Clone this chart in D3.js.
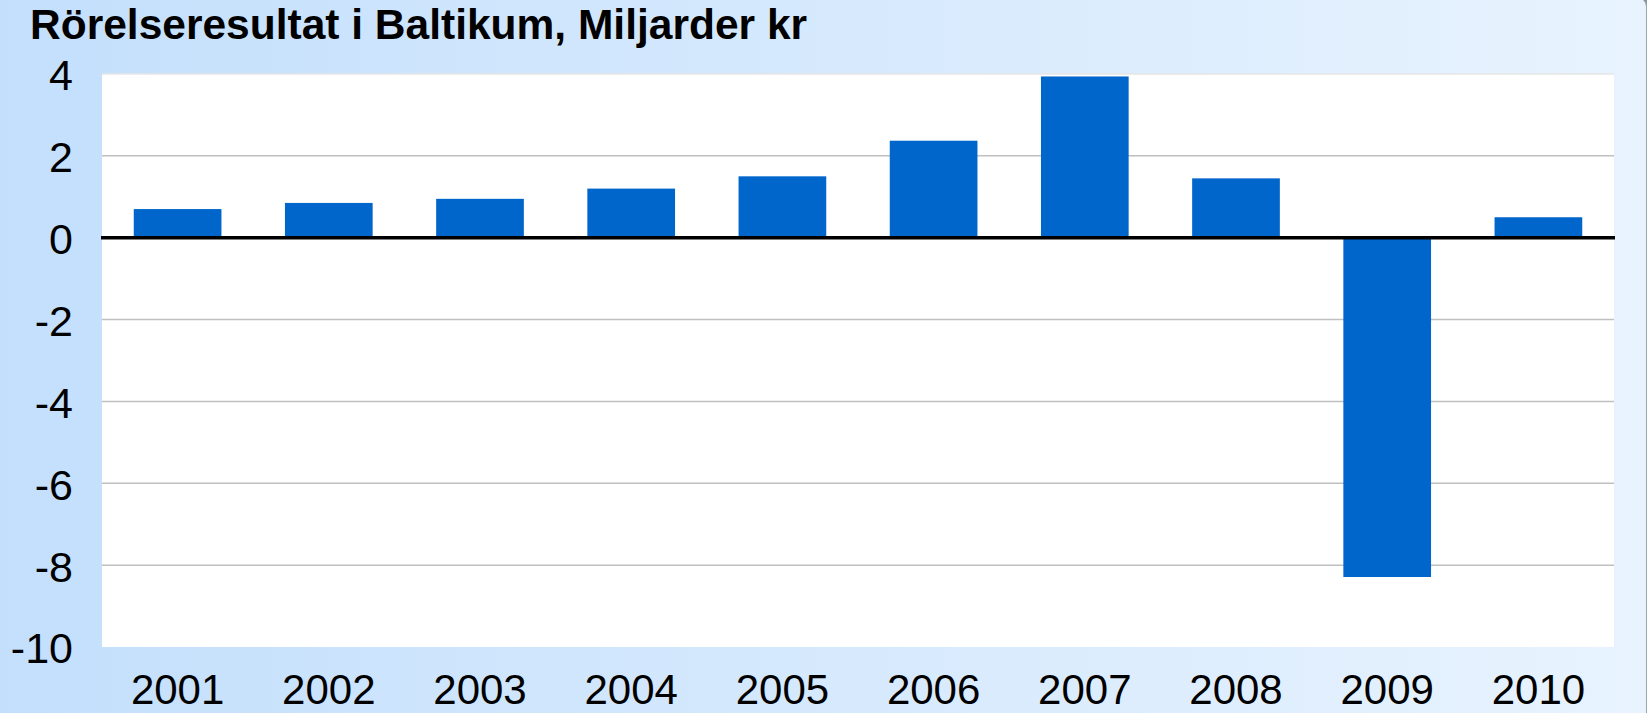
<!DOCTYPE html>
<html>
<head>
<meta charset="utf-8">
<script src="https://cdn.jsdelivr.net/npm/d3@7"></script>
<style>
  html, body { margin: 0; padding: 0; background: #8a949c; overflow: hidden; }
  svg { display: block; }
  text { font-family: "Liberation Sans", Arial, sans-serif; fill: #000; }
</style>
</head>
<body>
<svg id="chart" width="1647" height="713"></svg>
<script>
// Data
const categories = ["2001","2002","2003","2004","2005","2006","2007","2008","2009","2010"];
const values = [0.7, 0.85, 0.95, 1.2, 1.5, 2.37, 3.94, 1.45, -8.29, 0.5];
const yTicks = [-10, -8, -6, -4, -2, 0, 2, 4];
const yTickLabels = ["-10", "-8", "-6", "-4", "-2", "0", "2", "4"];
const title = "Rörelseresultat i Baltikum, Miljarder kr";

const W = 1647, H = 713;
const plot = { left: 102, right: 1614, top: 74, bottom: 647 };

const svg = d3.select("#chart");
const defs = svg.append("defs");
const grad = defs.append("linearGradient").attr("id", "bg").attr("x1", "0").attr("x2", "1").attr("y1", "0").attr("y2", "0");
grad.append("stop").attr("offset", "0").attr("stop-color", "#c3dffc");
grad.append("stop").attr("offset", "1").attr("stop-color", "#e8f3fe");

// frame background
svg.append("rect")
  .attr("x", -20).attr("y", -3).attr("width", 1666.5).attr("height", 800)
  .attr("rx", 10).attr("ry", 10)
  .attr("fill", "url(#bg)")
  .attr("stroke", "#9aa7b2").attr("stroke-width", 1);

const x = d3.scaleBand().domain(categories)
  .range([plot.left, plot.right])
  .paddingInner(0.42).paddingOuter(0.21);
const y = d3.scaleLinear().domain([-10, 4]).range([plot.bottom, plot.top]);

// plot area
svg.append("rect")
  .attr("x", plot.left).attr("y", plot.top)
  .attr("width", plot.right - plot.left).attr("height", plot.bottom - plot.top)
  .attr("fill", "#ffffff");

// gridlines
svg.append("g").selectAll("line")
  .data(yTicks.filter(t => t !== 0 && t !== -10))
  .join("line")
  .attr("x1", plot.left).attr("x2", plot.right)
  .attr("y1", d => y(d)).attr("y2", d => y(d))
  .attr("stroke", d => d === 4 ? "#e6e6e6" : "#c0c0c0")
  .attr("stroke-width", 1.5);

// bars
svg.append("g").selectAll("rect")
  .data(categories.map((c, i) => ({ c, v: values[i] })))
  .join("rect")
  .attr("x", d => x(d.c))
  .attr("width", x.bandwidth())
  .attr("y", d => y(Math.max(0, d.v)))
  .attr("height", d => Math.abs(y(d.v) - y(0)))
  .attr("fill", "#0066cc");

// zero line
svg.append("line")
  .attr("x1", plot.left - 1).attr("x2", plot.right + 1)
  .attr("y1", y(0)).attr("y2", y(0))
  .attr("stroke", "#000").attr("stroke-width", 3.5);

// y axis labels
const yAxis = d3.axisLeft(y).tickValues(yTicks).tickSize(0).tickPadding(0)
  .tickFormat((d, i) => yTickLabels[i]);
const gy = svg.append("g").attr("transform", "translate(73,0)").call(yAxis);
gy.select(".domain").remove();
gy.selectAll("text")
  .attr("font-size", 43).attr("dy", "0.37em")
  .attr("font-family", "Liberation Sans, Arial, sans-serif")
  .attr("fill", "#000");

// x axis labels
const xAxis = d3.axisBottom(x).tickSize(0).tickPadding(0);
const gx = svg.append("g").attr("transform", "translate(0,704)").call(xAxis);
gx.select(".domain").remove();
gx.selectAll("text")
  .attr("font-size", 42).attr("dy", 0).attr("y", 0)
  .attr("font-family", "Liberation Sans, Arial, sans-serif")
  .attr("fill", "#000");

// title
svg.append("text")
  .attr("x", 30).attr("y", 39)
  .attr("font-size", 42.5).attr("font-weight", "bold")
  .text(title);
</script>
</body>
</html>
